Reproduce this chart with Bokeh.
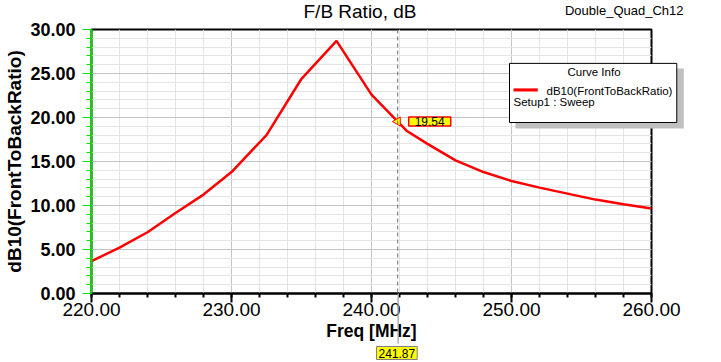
from bokeh.plotting import figure
from bokeh.models import (Range1d, Span, Label, SingleIntervalTicker, ColumnDataSource, Title)
from bokeh.embed import file_html
from bokeh.resources import INLINE

freq = [220, 222, 224, 226, 228, 230, 232.5, 235, 237.5, 240, 242.5, 244, 246, 248,
        250, 252, 254, 256, 258, 260]
fb_db = [3.67, 5.22, 6.96, 9.15, 11.24, 13.8, 18.0, 24.4, 28.7, 22.6, 18.5, 17.0, 15.13,
         13.8, 12.78, 12.03, 11.35, 10.67, 10.14, 9.65]
marker_x = 241.87
marker_y = 19.54
title_text = "F/B Ratio, dB"
design_name = "Double_Quad_Ch12"
legend_title = "Curve Info"
legend_label = "dB10(FrontToBackRatio)"
legend_setup = "Setup1 : Sweep"
x_tick_labels = {v: f"{v:.2f}" for v in range(220, 261, 10)}
y_tick_labels = {v: f"{v:.2f}" for v in range(0, 31, 5)}

FONT = "Liberation Sans"
FL, FT, AXH = 91, 29, 50  # frame left, frame top, height taken by the x axis


def top_text(text, left, top, size, align="left", **kw):
    """Zero-height title in the panel above the frame, box top at canvas y=top."""
    off = left - FL if align == "left" else left
    return Title(text=text, align=align, offset=off, standoff=int(round(2 * (top - FT))),
                 vertical_align="top", text_font=FONT, text_font_size=size,
                 text_font_style="normal", text_color="black", **kw)


def down_text(text, left, bottom, size, **kw):
    """Zero-height title in the panel above the frame, box bottom at canvas y=bottom."""
    return Title(text=text, align="left", offset=left - FL,
                 standoff=int(round(2 * (FT - bottom))), vertical_align="bottom",
                 text_font=FONT, text_font_size=size, text_font_style="normal",
                 text_color="black", **kw)


def box(left, top, width, height, fill, line=None):
    return down_text(" ", left, top + height, "1px", background_fill_color=fill,
                     border_line_color=line, border_line_width=1,
                     padding=dict(left=0, right=width, top=height - 1, bottom=0))


# design name (outermost title), right aligned at x=683
p = figure(width=721, height=362, frame_width=560, frame_height=264,
           min_border_left=91, min_border_right=70, min_border_top=29, min_border_bottom=69,
           x_range=Range1d(220, 260), y_range=Range1d(0, 30),
           title=top_text(design_name, -32, 2, "13px", align="right"),
           output_backend="svg", toolbar_location=None)
p.background_fill_color = "white"
p.border_fill_color = "white"
p.outline_line_color = "black"
p.outline_line_width = 2

# axes
p.xaxis.ticker = SingleIntervalTicker(interval=10, num_minor_ticks=5)
p.yaxis.ticker = SingleIntervalTicker(interval=5, num_minor_ticks=5)
p.xaxis.major_label_overrides = x_tick_labels
p.yaxis.major_label_overrides = y_tick_labels

p.xaxis.axis_line_color = "black"
p.xaxis.axis_line_width = 2
p.xaxis.major_tick_line_color = "black"
p.xaxis.minor_tick_line_color = "black"
p.xaxis.major_tick_line_width = 2
p.xaxis.minor_tick_line_width = 2
p.xaxis.major_tick_out = 9
p.xaxis.major_tick_in = 0
p.xaxis.minor_tick_out = 4
p.xaxis.minor_tick_in = 0
p.xaxis.major_label_text_font = FONT
p.xaxis.major_label_text_font_size = "19px"
p.xaxis.major_label_text_color = "black"
p.xaxis.major_label_standoff = 0
p.xaxis.axis_label = "Freq [MHz]"
p.xaxis.axis_label_text_font = FONT
p.xaxis.axis_label_text_font_size = "17.5px"
p.xaxis.axis_label_text_font_style = "bold"
p.xaxis.axis_label_text_color = "black"
p.xaxis.axis_label_standoff = 2

p.yaxis.axis_line_color = "#00e000"
p.yaxis.axis_line_width = 2
p.yaxis.major_tick_line_color = "#00e000"
p.yaxis.minor_tick_line_color = "#00e000"
p.yaxis.major_tick_out = 9
p.yaxis.major_tick_in = 0
p.yaxis.minor_tick_out = 5
p.yaxis.minor_tick_in = 0
p.yaxis.major_label_text_font = FONT
p.yaxis.major_label_text_font_size = "18px"
p.yaxis.major_label_text_font_style = "bold"
p.yaxis.major_label_text_color = "black"
p.yaxis.major_label_standoff = 7
p.yaxis.axis_label = "dB10(FrontToBackRatio)"
p.yaxis.axis_label_text_font = FONT
p.yaxis.axis_label_text_font_size = "19px"
p.yaxis.axis_label_text_font_style = "bold"
p.yaxis.axis_label_text_color = "black"
p.yaxis.axis_label_standoff = 2

# grid
for g in (p.xgrid, p.ygrid):
    g.grid_line_color = "#c4c4c4"
    g.grid_line_width = 1
    g.minor_grid_line_color = "#e4e4e4"
    g.minor_grid_line_width = 1

# curve
src = ColumnDataSource(dict(x=freq, y=fb_db))
curve = p.line("x", "y", source=src, line_color="red", line_width=2.5)

# marker
p.add_layout(Span(location=marker_x, dimension="height", line_color="#707070",
                  line_dash="4 3", line_width=1))
p.scatter([marker_x], [marker_y], marker="triangle", angle=1.5708, size=9,
          fill_color="yellow", line_color="red", line_width=1)
p.add_layout(Label(x=marker_x, y=marker_y, x_offset=11, y_offset=0, text=f"{marker_y:.2f}",
                   text_font=FONT, text_font_size="12px", text_color="black",
                   text_align="left", text_baseline="middle",
                   background_fill_color="yellow", border_line_color="red",
                   border_line_width=1.5, padding=dict(left=6, right=6, top=0, bottom=0)))

# main title on the top row
p.add_layout(top_text(title_text, 303, 0, "19px"), "above")

# curve info box: shadow, frame, sample line, texts
p.add_layout(box(515, 68, 168, 60, "#c0c0c0"), "above")
p.add_layout(box(509, 63, 167, 59, "white", "black"), "above")
p.add_layout(box(513, 88, 24, 3, "red"), "above")
p.add_layout(down_text(legend_title, 567, 77, "11.5px"), "above")
p.add_layout(down_text(legend_label, 546, 96, "11.5px"), "above")
p.add_layout(down_text(legend_setup, 513, 107, "11.5px"), "above")

# marker x value under the axis (zero-height titles in the panel below)
p.add_layout(Title(text=" ", align="left", offset=306, standoff=-2 * AXH,
                   vertical_align="top", text_font=FONT, text_font_size="1px",
                   background_fill_color="#a0a0a0",
                   padding=dict(left=0, right=1, top=0, bottom=49)), "below")
p.add_layout(Title(text=f"{marker_x:.2f}", align="left", offset=285, standoff=-32,
                   vertical_align="bottom", text_font=FONT, text_font_size="12px",
                   text_font_style="normal", text_color="black",
                   background_fill_color="yellow", border_line_color="#808080",
                   padding=dict(left=2, right=2, top=2, bottom=2)), "below")

out = file_html(p, INLINE)
open("out.html", "w").write(out)
